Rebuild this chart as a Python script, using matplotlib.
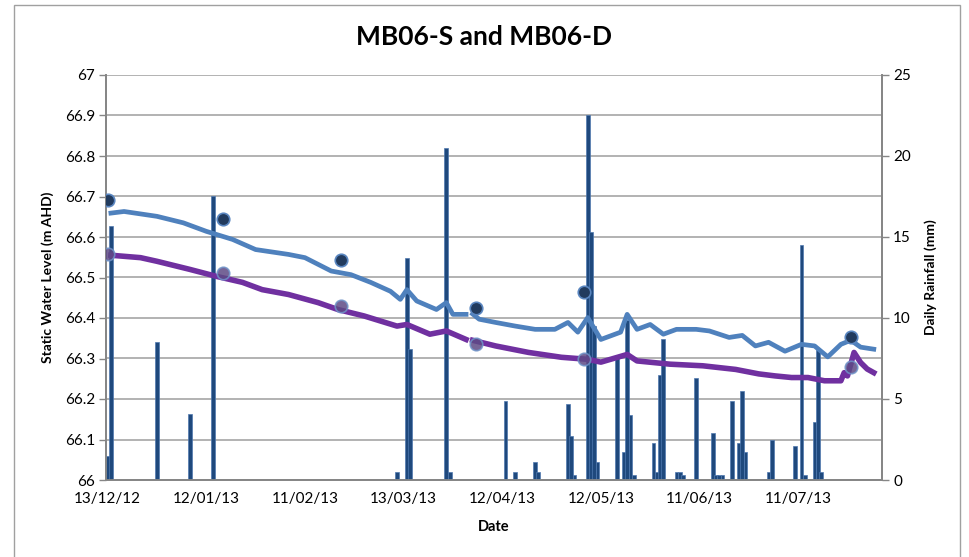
import matplotlib
matplotlib.use("Agg")
import matplotlib.pyplot as plt
from matplotlib.patches import Rectangle
import numpy as np
import pandas as pd

plt.rcParams['font.family'] = ['Lato', 'DejaVu Sans']

start = pd.Timestamp('2012-12-13')

# daily rainfall (mm)
rain_dates = ['2012-12-13', '2012-12-14', '2012-12-28', '2013-01-07', '2013-01-14',
              '2013-03-11', '2013-03-14', '2013-03-15', '2013-03-26', '2013-03-27',
              '2013-04-13', '2013-04-16', '2013-04-22', '2013-04-23',
              '2013-05-02', '2013-05-03', '2013-05-04', '2013-05-08', '2013-05-09',
              '2013-05-10', '2013-05-11', '2013-05-17', '2013-05-19', '2013-05-20',
              '2013-05-21', '2013-05-22', '2013-05-28', '2013-05-29', '2013-05-30',
              '2013-05-31', '2013-06-04', '2013-06-05', '2013-06-06', '2013-06-10',
              '2013-06-15', '2013-06-16', '2013-06-17', '2013-06-18', '2013-06-21',
              '2013-06-23', '2013-06-24', '2013-06-25', '2013-07-02', '2013-07-03',
              '2013-07-10', '2013-07-12', '2013-07-13', '2013-07-16', '2013-07-17',
              '2013-07-18']
rain_mm = [1.5, 15.7, 8.5, 4.1, 17.5,
           0.5, 13.7, 8.1, 20.5, 0.5,
           4.9, 0.5, 1.1, 0.5,
           4.7, 2.7, 0.3, 22.5, 15.3,
           9.5, 1.1, 7.6, 1.7, 9.9,
           4.0, 0.3, 2.3, 0.5, 6.5,
           8.7, 0.5, 0.5, 0.3, 6.3,
           2.9, 0.3, 0.3, 0.3, 4.9,
           2.3, 5.5, 1.7, 0.5, 2.5,
           2.1, 14.5, 0.3, 3.6, 8.0,
           0.5]

# MB06-S logger (m AHD)
s_dates = ['2012-12-14', '2012-12-18', '2012-12-28', '2013-01-05', '2013-01-12',
           '2013-01-20', '2013-01-27', '2013-02-06', '2013-02-11', '2013-02-19',
           '2013-02-25', '2013-03-03', '2013-03-09', '2013-03-12', '2013-03-14',
           '2013-03-17', '2013-03-23', '2013-03-26', '2013-03-28', '2013-04-01',
           '2013-04-02', '2013-04-03', '2013-04-05', '2013-04-10', '2013-04-16',
           '2013-04-22', '2013-04-28', '2013-05-02', '2013-05-05', '2013-05-08',
           '2013-05-12', '2013-05-18', '2013-05-20', '2013-05-23', '2013-05-27',
           '2013-05-31', '2013-06-04', '2013-06-10', '2013-06-14', '2013-06-20',
           '2013-06-24', '2013-06-28', '2013-07-02', '2013-07-07', '2013-07-12',
           '2013-07-16', '2013-07-20', '2013-07-24', '2013-07-27', '2013-07-30',
           '2013-08-03']
s_level = [66.659, 66.663, 66.651, 66.635, 66.614,
           66.594, 66.569, 66.557, 66.549, 66.516,
           66.507, 66.488, 66.466, 66.446, 66.470,
           66.442, 66.421, 66.438, 66.409, 66.409,
           np.nan, 66.410, 66.397, 66.389, 66.380,
           66.372, 66.372, 66.389, 66.365, 66.401,
           66.347, 66.365, 66.409, 66.372, 66.384,
           66.360, 66.372, 66.372, 66.368, 66.352,
           66.357, 66.331, 66.340, 66.318, 66.335,
           66.331, 66.304, 66.335, 66.345, 66.328,
           66.323]

# MB06-D logger (m AHD)
d_dates = ['2012-12-14', '2012-12-23', '2012-12-28', '2013-01-07', '2013-01-15',
           '2013-01-23', '2013-01-29', '2013-02-06', '2013-02-15', '2013-02-21',
           '2013-03-01', '2013-03-11', '2013-03-14', '2013-03-21', '2013-03-26',
           '2013-04-01', '2013-04-02', '2013-04-03', '2013-04-10', '2013-04-20',
           '2013-04-30', '2013-05-08', '2013-05-12', '2013-05-20', '2013-05-23',
           '2013-06-02', '2013-06-12', '2013-06-22', '2013-06-29', '2013-07-04',
           '2013-07-09', '2013-07-14', '2013-07-19', '2013-07-24', '2013-07-25',
           '2013-07-26', '2013-07-28', '2013-07-30', '2013-08-01', '2013-08-03']
d_level = [66.555, 66.549, 66.540, 66.520, 66.503,
           66.488, 66.470, 66.458, 66.438, 66.421,
           66.405, 66.380, 66.384, 66.360, 66.368,
           66.347, np.nan, 66.345, 66.331, 66.315,
           66.303, 66.298, 66.291, 66.310, 66.294,
           66.286, 66.282, 66.273, 66.262, 66.257,
           66.253, 66.253, 66.245, 66.245, 66.265,
           66.257, 66.315, 66.290, 66.274, 66.265]

# manual dip readings
dip_dates = ['2012-12-13', '2013-01-17', '2013-02-22', '2013-04-04', '2013-05-07', '2013-07-27']
dip_s = [66.692, 66.645, 66.544, 66.424, 66.463, 66.352]
dip_d = [66.557, 66.512, 66.430, 66.337, 66.298, 66.278]

tick_dates = ['2012-12-13', '2013-01-12', '2013-02-11', '2013-03-13',
              '2013-04-12', '2013-05-12', '2013-06-11', '2013-07-11']


def days(dates):
    return np.array([(pd.Timestamp(d) - start).days for d in dates], dtype=float)


fig = plt.figure(figsize=(9.69, 5.57), dpi=100)
ax = fig.add_axes([106 / 969, 1 - 480 / 557, 776 / 969, 405 / 557])
ax2 = ax.twinx()
ax.set_zorder(2)
ax2.set_zorder(1)
ax.patch.set_visible(False)

# rainfall columns + gridlines on the back axes
ax2.bar(days(rain_dates), rain_mm, width=1.15, color='#1F497D',
        edgecolor='#4F79B0', linewidth=0.5, zorder=3)
ax2.set_ylim(0, 25)
ax2.set_yticks(np.arange(0, 26, 5))
ax2.set_yticks(np.arange(0, 26, 2.5), minor=True)
ax2.tick_params(axis='y', which='minor', length=0)
ax2.tick_params(axis='y', which='major', length=5, width=1, color='#868686',
                labelsize=11, pad=3)
ax2.grid(True, axis='y', which='both', color='#A6A6A6', linewidth=1.2, zorder=0)
ax2.set_axisbelow(True)
ax2.set_ylabel('Daily Rainfall (mm)', fontsize=10, fontweight='bold', labelpad=10)

# water levels on the front axes
ax.plot(days(s_dates), s_level, color='#4F81BD', linewidth=3.4, zorder=3)
ax.plot(days(d_dates), d_level, color='#7030A0', linewidth=4.0, zorder=3)
ax.plot(days(dip_dates), dip_d, 'o', markersize=9, markerfacecolor='#5E4A85',
        markeredgecolor='#6F93C8', markeredgewidth=1.2, alpha=0.85, zorder=4)
ax.plot(days(dip_dates), dip_s, 'o', markersize=9, markerfacecolor='#223B5E',
        markeredgecolor='#5A86C0', markeredgewidth=1.2, zorder=5)

ax.set_ylim(66, 67)
ax.set_yticks(np.round(np.arange(66, 67.01, 0.1), 1))
ax.set_yticklabels(['%g' % v for v in np.round(np.arange(66, 67.01, 0.1), 1)])
ax.tick_params(axis='y', length=5, width=1, color='#868686', labelsize=11, pad=3)
ax.set_xlim(-0.5, 235.5)
ax.set_xticks(days(tick_dates))
ax.set_xticklabels([pd.Timestamp(d).strftime('%d/%m/%y') for d in tick_dates])
ax.tick_params(axis='x', length=0, labelsize=11, pad=9)
ax2.tick_params(axis='x', length=0)

ax.set_ylabel('Static Water Level (m AHD)', fontsize=10, fontweight='bold', labelpad=8)
ax.set_xlabel('Date', fontsize=10.5, fontweight='bold', labelpad=10)

for a in (ax, ax2):
    a.spines['top'].set_visible(False)
    for side in ('left', 'right', 'bottom'):
        a.spines[side].set_color('#868686')
        a.spines[side].set_linewidth(1.3)

fig.suptitle('MB06-S and MB06-D', x=0.5, y=1 - 37 / 557, va='center',
             fontsize=19, fontweight='bold')

# chart border
fig.patches.append(Rectangle((14 / 969, -0.02), 946 / 969, 1.02 - 5 / 557,
                             transform=fig.transFigure, fill=False,
                             edgecolor='#A0A0A0', linewidth=1.0))

fig.savefig('out.png', dpi=100)
